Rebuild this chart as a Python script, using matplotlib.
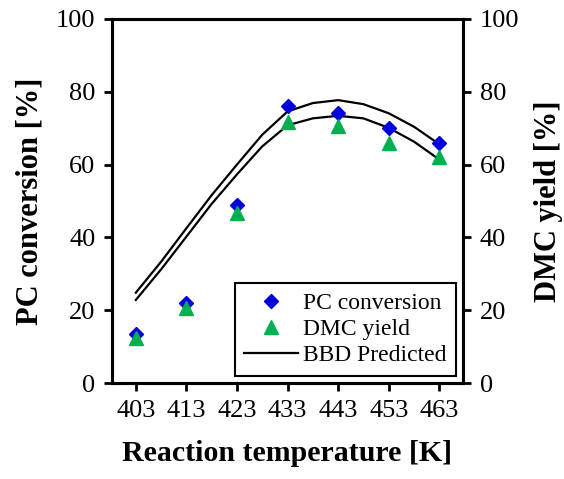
import numpy as np
import matplotlib.pyplot as plt

plt.rcParams['font.family'] = ['Liberation Serif', 'DejaVu Serif']

# measured data
temps = [403, 413, 423, 433, 443, 453, 463]
pc_conv = [13.4, 21.9, 48.8, 76.2, 74.2, 70.1, 65.8]
dmc_yield = [12.3, 20.5, 46.6, 71.8, 70.7, 66.0, 62.2]

# BBD predicted curves, read every 5 K
pred_temps = [403, 408, 413, 418, 423, 428, 433, 438, 443, 448, 453, 458, 463]
pred_upper = [24.8, 33.3, 42.5, 51.6, 60.0, 68.2, 74.6, 76.9, 77.7, 76.6, 74.1, 70.4, 65.6]
pred_lower = [22.8, 31.2, 40.2, 49.2, 57.3, 65.0, 70.8, 72.7, 73.4, 72.7, 70.1, 66.3, 61.4]

xpos = np.arange(len(temps))
pred_x = (np.array(pred_temps) - temps[0]) / 10.0

fig = plt.figure(figsize=(5.64, 4.79), dpi=100)
ax = fig.add_axes([0.1986, 0.2004, 0.6224, 0.7600])
ax2 = ax.twinx()

ax.plot(pred_x, pred_upper, color='black', lw=1.6, label='BBD Predicted', zorder=2)
ax.plot(pred_x, pred_lower, color='black', lw=1.6, zorder=2)
ax.plot(xpos, pc_conv, 'D', color='#0000DD', ms=7.5, ls='none', label='PC conversion', zorder=3)
ax.plot(xpos, dmc_yield, '^', color='#00B050', ms=10, ls='none', label='DMC yield', zorder=3)

ax.set_xlim(-0.47, 6.47)
ax.set_ylim(0, 100)
ax2.set_ylim(0, 100)
ax.set_xticks(xpos)
ax.set_xticklabels([str(t) for t in temps])
ax.set_yticks(range(0, 101, 20))
ax2.set_yticks(range(0, 101, 20))

for a in (ax, ax2):
    for s in a.spines.values():
        s.set_linewidth(2.2)
    a.tick_params(direction='out', length=6, width=2, labelsize=19, pad=6)

ax.set_xlabel('Reaction temperature [K]', fontsize=21.5, fontweight='bold', labelpad=13)
ax.set_ylabel('PC conversion [%]', fontsize=22, fontweight='bold', labelpad=8)
ax2.set_ylabel('DMC yield [%]', fontsize=22, fontweight='bold', labelpad=11)

h, l = ax.get_legend_handles_labels()
order = [1, 2, 0]
leg = ax.legend([h[i] for i in order], [l[i] for i in order], loc='lower right',
                fontsize=17, fancybox=False, edgecolor='black', framealpha=1,
                borderaxespad=0.3, handlelength=2.3, labelspacing=0.2,
                borderpad=0.4, handletextpad=0.2)
leg.get_frame().set_linewidth(1.5)

fig.savefig('out.png', dpi=100)
